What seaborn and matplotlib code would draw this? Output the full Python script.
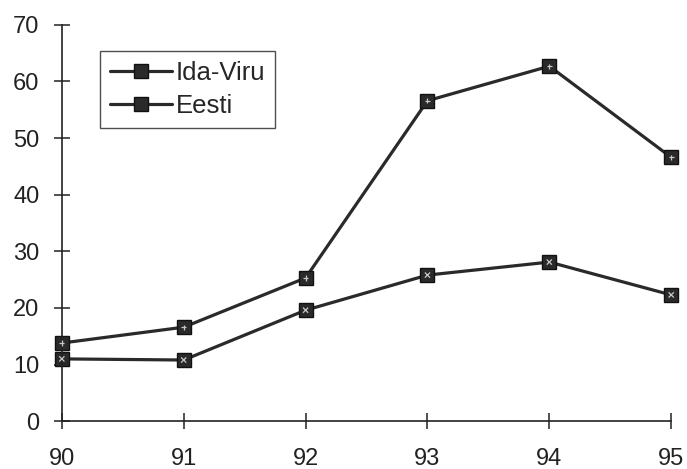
"""Ida-Viru vs Eesti, 1990-1995 — seaborn line chart."""

import matplotlib

matplotlib.use("Agg")

import matplotlib.pyplot as plt
import pandas as pd
import seaborn as sns

years = [90, 91, 92, 93, 94, 95]
ida_viru = [13.8, 16.6, 25.3, 56.6, 62.7, 46.6]
eesti = [11.0, 10.8, 19.6, 25.8, 28.1, 22.3]
series_names = ["Ida-Viru", "Eesti"]

df = pd.DataFrame(
    {
        "year": years * 2,
        "value": ida_viru + eesti,
        "region": [series_names[0]] * len(years) + [series_names[1]] * len(years),
    }
)

sns.set_style("white")
plt.rcParams["font.family"] = ["Liberation Sans", "DejaVu Sans"]

fig, ax = plt.subplots(figsize=(6.87, 4.69), dpi=100)
fig.subplots_adjust(left=0.09, right=0.977, top=0.947, bottom=0.102)

dark = "#2a2a2a"
sns.lineplot(
    data=df,
    x="year",
    y="value",
    hue="region",
    style="region",
    palette={n: dark for n in series_names},
    markers={n: "s" for n in series_names},
    dashes=False,
    linewidth=2.3,
    markersize=10,
    markeredgecolor="#111111",
    markeredgewidth=1,
    clip_on=False,
    ax=ax,
)

# light speckle inside the square markers
sns.scatterplot(
    data=df,
    x="year",
    y="value",
    style="region",
    markers={series_names[0]: "+", series_names[1]: "x"},
    color="#c8c8c8",
    s=14,
    linewidth=0.9,
    legend=False,
    clip_on=False,
    zorder=5,
    ax=ax,
)

ax.set_xlim(years[0], years[-1])
ax.set_ylim(0, 70)
ax.set_xticks(years)
ax.set_yticks(range(0, 71, 10))
ax.set_xlabel("")
ax.set_ylabel("")

for side in ("top", "right"):
    ax.spines[side].set_visible(False)
for side in ("left", "bottom"):
    ax.spines[side].set_color("#222222")
    ax.spines[side].set_linewidth(1.2)

ax.tick_params(
    axis="both",
    direction="inout",
    length=12,
    width=1.1,
    colors="#222222",
    labelsize=17,
    left=True,
    bottom=True,
)
ax.tick_params(axis="x", pad=13)
ax.tick_params(axis="y", pad=10)

leg = ax.legend(
    loc="upper left",
    bbox_to_anchor=(0.062, 0.935),
    frameon=True,
    fancybox=False,
    fontsize=18.5,
    handlelength=2.4,
    handletextpad=0.15,
    borderpad=0.4,
    borderaxespad=0,
    labelspacing=0.35,
)
leg.get_frame().set_edgecolor("#222222")
leg.get_frame().set_linewidth(1.0)

fig.savefig("out.png", dpi=100)
